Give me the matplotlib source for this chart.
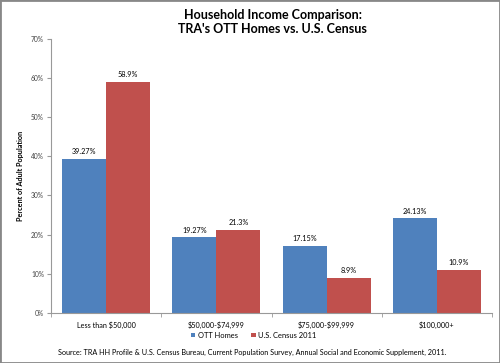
import numpy as np
import matplotlib.pyplot as plt
from matplotlib.patches import Rectangle

categories = ["Less than \\$50,000", "\\$50,000-\\$74,999", "\\$75,000-\\$99,999", "\\$100,000+"]
ott_homes = [39.27, 19.27, 17.15, 24.13]
census_2011 = [58.9, 21.3, 8.9, 10.9]
ott_labels = ["39.27%", "19.27%", "17.15%", "24.13%"]
census_labels = ["58.9%", "21.3%", "8.9%", "10.9%"]

blue = "#4F81BD"
red = "#C0504D"
font = ["Lato", "DejaVu Sans"]

fig = plt.figure(figsize=(5, 3.63), dpi=100)
fig.patches.append(Rectangle((0, 0), 1, 1, transform=fig.transFigure,
                             fill=False, edgecolor="#888888", linewidth=2))
ax = fig.add_axes([0.102, 0.138, 0.882, 0.755])

x = np.arange(len(categories))
w = 0.4
b1 = ax.bar(x - w / 2, ott_homes, w, color=blue, label="OTT Homes")
b2 = ax.bar(x + w / 2, census_2011, w, color=red, label="U.S. Census 2011")

for rect, lab in zip(b1, ott_labels):
    ax.text(rect.get_x() + rect.get_width() / 2, rect.get_height() + 1, lab,
            ha="center", va="bottom", fontsize=5.2, family=font)
for rect, lab in zip(b2, census_labels):
    ax.text(rect.get_x() + rect.get_width() / 2, rect.get_height() + 1, lab,
            ha="center", va="bottom", fontsize=5.2, family=font)

ax.set_xlim(-0.5, len(categories) - 0.5)
ax.set_ylim(0, 70)
ax.set_yticks(range(0, 71, 10))
ax.set_yticklabels([f"{v}%" for v in range(0, 71, 10)], fontsize=4.8, family=font, color="#444444")
ax.set_xticks(x)
ax.set_xticklabels(categories, fontsize=5.2, family=font)
ax.set_xticks(np.arange(-0.5, len(categories)), minor=True)
ax.tick_params(axis="x", which="major", length=0, pad=6)
ax.tick_params(axis="x", which="minor", length=3, color="#999999")
ax.tick_params(axis="y", length=3, color="#999999", pad=2)

for s in ["top", "right"]:
    ax.spines[s].set_visible(False)
ax.spines["left"].set_color("#999999")
ax.spines["bottom"].set_color("#999999")
ax.spines["left"].set_linewidth(0.8)
ax.spines["bottom"].set_linewidth(0.8)

ax.set_ylabel("Percent of Adult Population", fontsize=5.2, fontweight="bold", family=font, labelpad=5)

fig.text(0.545, 0.975, "Household Income Comparison:\nTRA's OTT Homes vs. U.S. Census",
         ha="center", va="top", fontsize=9, fontweight="bold", family=font, linespacing=1.2)

fig.legend(handles=[b1, b2], loc="center", bbox_to_anchor=(0.507, 0.077), ncol=2,
           frameon=False, prop={"family": font, "size": 5.4},
           handlelength=0.6, handleheight=0.6, handletextpad=0.3, columnspacing=1.8)

fig.text(0.116, 0.028, "Source: TRA HH Profile & U.S. Census Bureau, Current Population Survey, "
         "Annual Social and Economic Supplement, 2011.",
         ha="left", va="center", fontsize=5.2, family=font)

fig.savefig("out.png", dpi=100)
